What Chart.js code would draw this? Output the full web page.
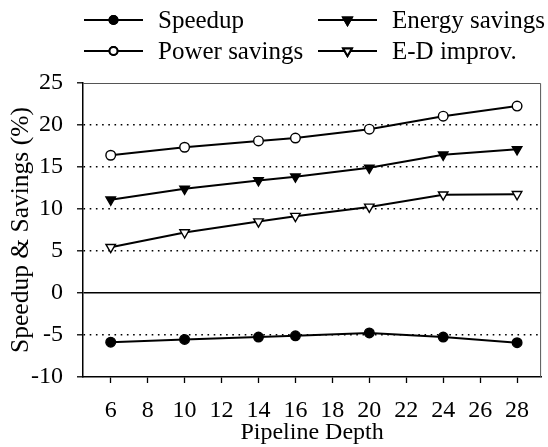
<!DOCTYPE html>
<html>
<head>
<meta charset="utf-8">
<script src="https://cdn.jsdelivr.net/npm/chart.js@4.4.1/dist/chart.umd.min.js"></script>
<style>
html,body{margin:0;padding:0;background:#fff;}
#wrap{width:548px;height:447px;position:relative;}
</style>
</head>
<body>
<div id="wrap"><canvas id="c" width="548" height="447"></canvas></div>
<script>
const depths = [6, 10, 14, 16, 20, 24, 28];
const speedup = [-5.85, -5.53, -5.25, -5.1, -4.75, -5.25, -5.92];
const energySavings = [11.1, 12.4, 13.4, 13.85, 14.9, 16.45, 17.1];
const powerSavings = [16.4, 17.35, 18.1, 18.45, 19.5, 21.05, 22.25];
const edImprov = [5.45, 7.2, 8.5, 9.15, 10.25, 11.7, 11.75];
const xTickLabels = [6, 8, 10, 12, 14, 16, 18, 20, 22, 24, 26, 28];
const yTickLabels = [-10, -5, 0, 5, 10, 15, 20, 25];
const seriesNames = ['Speedup', 'Energy savings', 'Power savings', 'E-D improv.'];

const FONT = 'Liberation Serif';
const pts = arr => depths.map((d, i) => ({x: d, y: arr[i]}));

const datasets = [
  {label: seriesNames[0], data: pts(speedup), pointStyle: 'circle', rotation: 0, backgroundColor: '#000', pointRadius: 4.8},
  {label: seriesNames[1], data: pts(energySavings), pointStyle: 'triangle', rotation: 180, backgroundColor: '#000', pointRadius: 5.5},
  {label: seriesNames[2], data: pts(powerSavings), pointStyle: 'circle', rotation: 0, backgroundColor: '#fff', pointRadius: 4.8},
  {label: seriesNames[3], data: pts(edImprov), pointStyle: 'triangle', rotation: 180, backgroundColor: '#fff', pointRadius: 5.5}
].map(d => Object.assign({
  borderColor: '#000', borderWidth: 2, pointBorderWidth: 1.4, pointBorderColor: '#000',
  pointBackgroundColor: d.backgroundColor, pointRotation: d.rotation, tension: 0, fill: false
}, d));

const frame = {
  id: 'frame',
  beforeDatasetsDraw(chart) {
    const {ctx, chartArea: a} = chart;
    ctx.save();
    ctx.strokeStyle = '#555';
    ctx.lineWidth = 1;
    ctx.beginPath();
    ctx.moveTo(a.left, a.top + 0.5);
    ctx.lineTo(a.right - 0.5, a.top + 0.5);
    ctx.lineTo(a.right - 0.5, a.bottom);
    ctx.stroke();
    ctx.restore();
  }
};

const legendGrid = {
  id: 'legendGrid',
  afterDraw(chart) {
    const {ctx} = chart;
    const cols = [{lx: 84, tx: 158}, {lx: 318, tx: 392}];
    const rows = [20, 51];
    const lineLen = 59;
    ctx.save();
    chart.data.datasets.forEach((ds, i) => {
      const c = cols[i % 2], y = rows[Math.floor(i / 2)];
      ctx.strokeStyle = '#000';
      ctx.lineWidth = 2;
      ctx.beginPath();
      ctx.moveTo(c.lx, y);
      ctx.lineTo(c.lx + lineLen, y);
      ctx.stroke();
      Chart.helpers.drawPoint(ctx, {
        pointStyle: ds.pointStyle, rotation: ds.rotation,
        radius: ds.pointStyle === 'triangle' ? 5 : 4, borderWidth: 1.3
      }, c.lx + lineLen / 2, y);
      ctx.fillStyle = ds.backgroundColor;
      ctx.fill();
      ctx.stroke();
      ctx.fillStyle = '#000';
      ctx.font = '25px "' + FONT + '"';
      ctx.textBaseline = 'middle';
      ctx.textAlign = 'left';
      ctx.fillText(ds.label, c.tx, y + 1);
    });
    ctx.restore();
  }
};

new Chart(document.getElementById('c'), {
  type: 'line',
  data: {datasets},
  plugins: [frame, legendGrid],
  options: {
    responsive: false,
    animation: false,
    layout: {padding: {top: 83, right: 6, bottom: 0, left: 0}},
    plugins: {legend: {display: false}, tooltip: {enabled: false}},
    scales: {
      x: {
        type: 'linear', min: 4.5, max: 29.3,
        afterBuildTicks: s => { s.ticks = xTickLabels.map(v => ({value: v})); },
        afterFit: s => { s.height = 70; },
        grid: {drawOnChartArea: false, tickLength: 6, tickColor: '#000', tickWidth: 1.3},
        border: {color: '#000', width: 1.5},
        ticks: {color: '#000', font: {family: FONT, size: 24}, padding: 13, maxRotation: 0, autoSkip: false},
        title: {display: true, text: 'Pipeline Depth', color: '#000', font: {family: FONT, size: 24}, padding: {top: 0, bottom: 0}}
      },
      y: {
        type: 'linear', min: -10, max: 25,
        afterBuildTicks: s => { s.ticks = yTickLabels.map(v => ({value: v})); },
        afterFit: s => { s.width = 83; },
        grid: {
          drawOnChartArea: true, tickLength: 6, tickColor: '#000', tickWidth: 1.3,
          color: c => (c.tick && (c.tick.value === 25 || c.tick.value === -10)) ? 'rgba(0,0,0,0)' : '#000',
          lineWidth: c => (c.tick && c.tick.value === 0) ? 1.5 : 1.6
        },
        border: {color: '#000', width: 1.5, dash: c => (c.tick && c.tick.value !== 0) ? [1.6, 4.6] : []},
        ticks: {color: '#000', font: {family: FONT, size: 24}, padding: 14},
        title: {display: true, text: 'Speedup & Savings (%)', color: '#000', font: {family: FONT, size: 25.5}, padding: {top: 6, bottom: 0}}
      }
    }
  }
});
</script>
</body>
</html>
